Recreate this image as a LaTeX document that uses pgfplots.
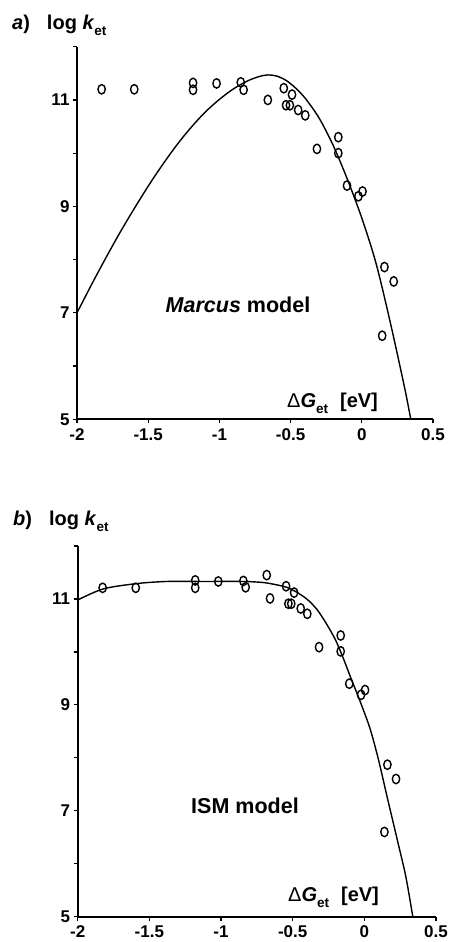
\documentclass[border=0pt]{standalone}
\usepackage{fontspec}
\setmainfont{Liberation Sans}
\usepackage{pgfplots}
\pgfplotsset{compat=1.18}

% shared look of both panels
\pgfplotsset{
  ketaxis/.style={
    scale only axis,
    anchor=south west,
    xmin=-2, xmax=0.5, ymin=5, ymax=12,
    axis lines=left,
    axis line style={line width=1.8pt, -},
    xtick={-2,-1.5,-1,-0.5,0,0.5},
    xticklabels={-2,-1.5,-1,-0.5,0,0.5},
    ytick={5,6,7,8,9,10,11,12},
    yticklabels={5,,7,,9,,11,},
    tick align=outside,
    major tick length=4pt,
    tick style={line width=1.2pt, black},
    tick label style={font=\fontsize{17}{17}\selectfont\bfseries},
    xticklabel style={yshift=-1.5pt},
    clip=false,
  },
  curve/.style={black, line width=1.4pt, smooth, tension=0.5},
  pts/.style={only marks, mark=o, mark size=4.7pt,
    mark options={xscale=0.78, line width=1.4pt, black}},
}

\newcommand{\ket}{\textit{k}\raisebox{-0.3em}{\fontsize{13.5}{13.5}\selectfont et}}
\newcommand{\dG}{{\mdseries Δ}\textit{G}\raisebox{-0.3em}{\fontsize{13.5}{13.5}\selectfont et}\hspace{0.6em}[eV]}

\begin{document}
\begin{tikzpicture}[x=1pt, y=1pt]
\path[use as bounding box] (0,0) rectangle (454,942);

% ---------------- a) Marcus ----------------
\begin{axis}[ketaxis, at={(77pt,522.7pt)}, width=356pt, height=372.6pt]
  \addplot[curve] coordinates {
    (-2.00,7.00) (-1.90,7.52) (-1.80,8.02) (-1.70,8.50) (-1.60,8.95)
    (-1.50,9.38) (-1.40,9.78) (-1.30,10.15) (-1.20,10.48) (-1.10,10.77)
    (-1.00,11.01) (-0.90,11.21) (-0.80,11.36) (-0.72,11.44) (-0.66,11.47)
    (-0.60,11.45) (-0.54,11.38) (-0.48,11.26) (-0.40,11.04) (-0.30,10.66)
    (-0.20,10.14) (-0.10,9.50) (0.00,8.78) (0.10,7.93) (0.20,6.82)
    (0.30,5.60) (0.344,5.00)
  };
  \addplot[pts] coordinates {
    (-1.827,11.20) (-1.598,11.20) (-1.185,11.32) (-1.185,11.19) (-1.02,11.31)
    (-0.85,11.33) (-0.83,11.19) (-0.66,11.00) (-0.548,11.22) (-0.49,11.10)
    (-0.532,10.90) (-0.505,10.90) (-0.447,10.81) (-0.397,10.71) (-0.315,10.08)
    (-0.165,10.30) (-0.165,10.00) (-0.104,9.39) (-0.024,9.19) (0.005,9.28)
    (0.159,7.86) (0.224,7.59) (0.143,6.57)
  };
\end{axis}
\node[anchor=base west, inner sep=0pt, font=\fontsize{20}{20}\selectfont\bfseries]
  at (12,912) {\textit{a})\hspace{0.85em}log \ket};
\node[anchor=base, inner sep=0pt, font=\fontsize{21.5}{21.5}\selectfont\bfseries]
  at (238,629) {\textit{Marcus} model};
\node[anchor=base west, inner sep=0pt, font=\fontsize{20}{20}\selectfont\bfseries]
  at (287,534) {\dG};

% ---------------- b) ISM ----------------
\begin{axis}[ketaxis, at={(77.7pt,25.3pt)}, width=358.3pt, height=370.7pt]
  \addplot[curve] coordinates {
    (-2.00,10.98) (-1.821,11.19) (-1.588,11.29) (-1.379,11.33) (-1.124,11.33)
    (-0.85,11.33) (-0.705,11.31) (-0.60,11.26) (-0.542,11.22) (-0.48,11.14)
    (-0.402,11.00) (-0.33,10.80) (-0.262,10.52) (-0.20,10.22) (-0.147,9.88)
    (-0.09,9.48) (-0.03,9.07) (0.04,8.55) (0.10,7.95) (0.16,7.25)
    (0.237,6.37) (0.29,5.75) (0.338,5.00)
  };
  \addplot[pts] coordinates {
    (-1.826,11.21) (-1.595,11.21) (-1.18,11.35) (-1.18,11.21) (-1.019,11.33)
    (-0.844,11.34) (-0.828,11.22) (-0.681,11.45) (-0.658,11.01) (-0.546,11.24)
    (-0.49,11.12) (-0.53,10.91) (-0.51,10.91) (-0.444,10.82) (-0.398,10.72)
    (-0.316,10.09) (-0.165,10.31) (-0.165,10.01) (-0.105,9.40) (-0.023,9.19)
    (0.005,9.28) (0.161,7.87) (0.221,7.60) (0.14,6.60)
  };
\end{axis}
\node[anchor=base west, inner sep=0pt, font=\fontsize{20}{20}\selectfont\bfseries]
  at (13,416) {\textit{b})\hspace{0.85em}log \ket};
\node[anchor=base, inner sep=0pt, font=\fontsize{21.5}{21.5}\selectfont\bfseries]
  at (245,128) {ISM model};
\node[anchor=base west, inner sep=0pt, font=\fontsize{20}{20}\selectfont\bfseries]
  at (288,40) {\dG};
\end{tikzpicture}
\end{document}
